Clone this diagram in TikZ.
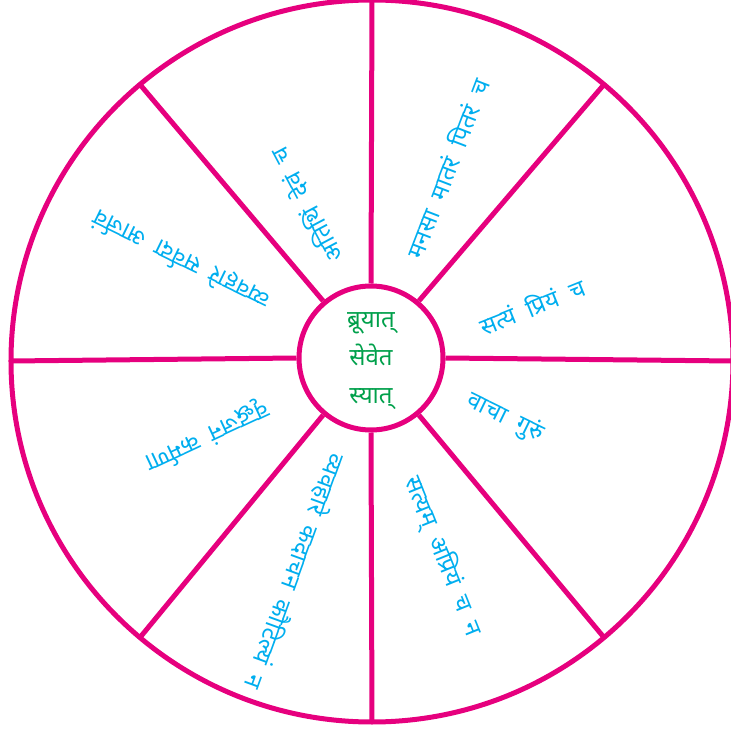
\documentclass[tikz,border=0pt]{standalone}
\usepackage{fontspec}
\newfontfamily\deva[Script=Devanagari]{Noto Sans}
\definecolor{spoke}{RGB}{230,0,126}
\definecolor{verse}{RGB}{0,174,239}
\definecolor{verb}{RGB}{0,160,75}

\tikzset{
  wheel/.style={draw=spoke, line width=5pt},
  phrase/.style={text=verse, font=\deva\fontsize{24}{28}\selectfont, inner sep=0pt},
}

\begin{document}
\begin{tikzpicture}[x=1pt, y=1pt]
    \useasboundingbox (-372,-370) rectangle (359,361);
    \clip (-372,-370) rectangle (359,361);

    % rim and hub
    \draw[wheel] (0,0) circle (361);
    \node[wheel, circle, minimum size=144pt, inner sep=0pt,
          text=verb, font=\deva\fontsize{24}{38}\selectfont] (hub) at (-1,3)
        {\raisebox{-7pt}{\begin{tabular}{@{}c@{}}ब्रूयात्\\सेवेत\\स्यात्\end{tabular}}};

    % spokes
    \foreach \a in {0,50,90,130,180,230,270,310} {
        \coordinate (rim\a) at (\a:361);
        \draw[wheel] (hub.\a) -- (rim\a);
    }

    % phrases, read from the hub outwards
    \node[phrase, rotate=69]  (manasa)  at (68.8:207) {मनसा\ \ मातरं\ \ पितरं\ \ च};
    \node[phrase, rotate=22]  (priyam)  at (19:169)   {सत्यं\ \ प्रियं\ \ च};
    \node[phrase, rotate=-26] (vaca)    at (-23:145)  {वाचा\ \ गुरुं};
    \node[phrase, rotate=-68] (apriyam) at (-70:208)  {सत्यम्\ \ अप्रियं\ \ च\ \ न};
    \node[phrase, rotate=250] (kutila)  at (250:224)  {व्यवहारे\ \ कदाचन\ \ कौटिल्यं\ \ न};
    \node[phrase, rotate=205] (karmana) at (204.5:181) {वृद्धजनं\ \ कर्मणा};
    \node[phrase, rotate=154] (arjava)  at (152:216)  {व्यवहारे\ \ सर्वदा\ \ आर्जवं};
    \node[phrase, rotate=118] (atithi)  at (113:169)  {अतिथिं\ \ देवं\ \ च};
\end{tikzpicture}
\end{document}
